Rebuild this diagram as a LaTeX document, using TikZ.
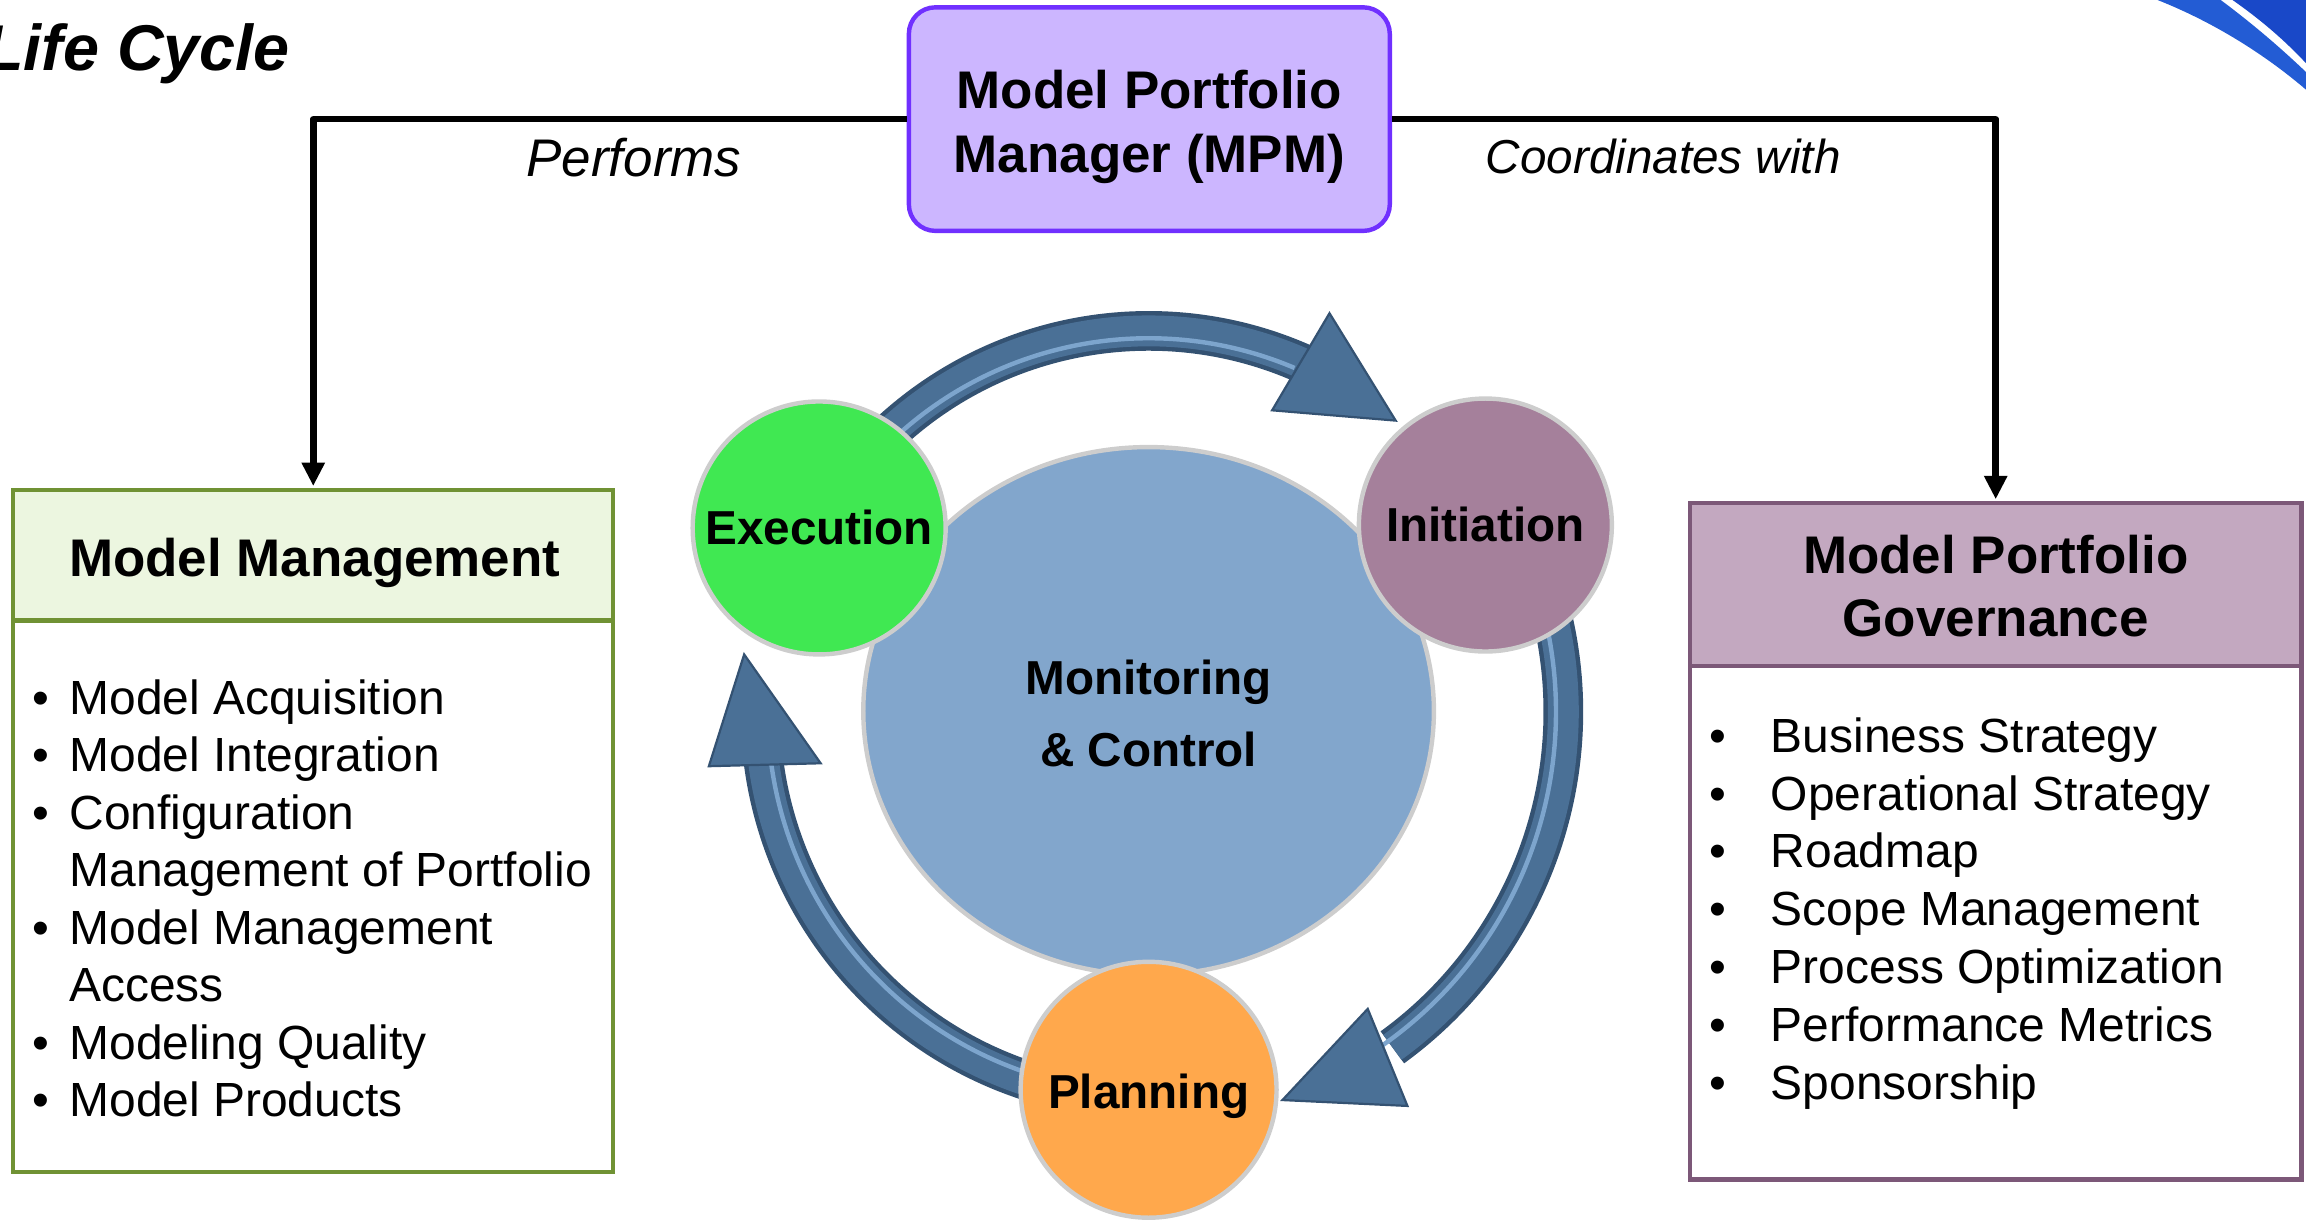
\documentclass[tikz,border=0pt]{standalone}
\usepackage{fontspec}
\setmainfont{Liberation Sans}
\usetikzlibrary{calc,arrows.meta,shapes.geometric}
\definecolor{execgreen}{RGB}{64,232,82}
\definecolor{initmauve}{RGB}{165,128,155}
\definecolor{planorange}{RGB}{255,168,76}
\definecolor{monblue}{RGB}{130,166,204}
\definecolor{arrowblue}{RGB}{74,112,150}
\definecolor{arrowdark}{RGB}{52,82,114}
\definecolor{arrowlight}{RGB}{125,165,205}
\definecolor{mpmfill}{RGB}{204,182,255}
\definecolor{mpmdraw}{RGB}{112,48,255}
\definecolor{mmfill}{RGB}{236,246,224}
\definecolor{mmdraw}{RGB}{112,146,52}
\definecolor{mpgfill}{RGB}{195,168,192}
\definecolor{mpgdraw}{RGB}{124,88,120}
\definecolor{rim}{RGB}{205,205,205}
\definecolor{swooshA}{RGB}{35,92,212}
\definecolor{swooshB}{RGB}{25,72,200}
\begin{document}
\begin{tikzpicture}[x=1pt,y=1pt,
  conn/.style={line width=4.5pt, draw=black, line join=round, -{Triangle[width=15pt,length=16pt]}},
  itemtxt/.style={anchor=base west, inner sep=0pt, font=\fontsize{32.6}{39}\selectfont},
  bul/.style={anchor=base, inner sep=0pt, font=\fontsize{32.6}{39}\selectfont},
  hdr/.style={anchor=base, inner sep=0pt, font=\bfseries\fontsize{36}{43}\selectfont},
  circtxt/.style={anchor=base, inner sep=0pt, font=\bfseries\fontsize{32.4}{38}\selectfont},
  circ/.style={circle, draw=rim, line width=3pt, inner sep=0pt},
  bandout/.style={line width=27pt, draw=arrowdark},
  bandin/.style={line width=21pt, draw=arrowblue},
  bandhi/.style={line width=3pt, draw=arrowlight},
  headst/.style={fill=arrowblue, draw=arrowdark, line width=1.5pt, line join=miter},
  lbl/.style={anchor=base, inner sep=0pt, font=\itshape\fontsize{32.4}{38}\selectfont}
]
\useasboundingbox (0,0) rectangle (1568,830);

% swoosh top right
\fill[swooshA] (1467,830) .. controls (1505,815) and (1540,793) .. (1568,769) -- (1568,781) .. controls (1548,800) and (1530,815) .. (1510,830) -- cycle;
\fill[swooshB] (1518,830) .. controls (1538,816) and (1554,802) .. (1568,787) -- (1568,830) -- cycle;

% title
\node[anchor=base west, inner sep=0pt, font=\bfseries\itshape\fontsize{44}{50}\selectfont] (title) at (-11,782) {Life Cycle};

% MPM box
\node[draw=mpmdraw, fill=mpmfill, rounded corners=18pt, line width=3pt, minimum width=327pt, minimum height=152pt, inner sep=0pt] (mpm) at (781.5,749) {};
\node[hdr] (mpmA) at (781.5,756) {Model Portfolio};
\node[hdr] (mpmB) at (781.5,713) {Manager (MPM)};

% Model Management box
\node[draw=mmdraw, fill=white, line width=3pt, minimum width=408pt, minimum height=375pt, inner sep=0pt] (mmb) at (213,220.5) {};
\node[draw=mmdraw, fill=mmfill, line width=3pt, minimum width=408pt, minimum height=89pt, inner sep=0pt] (mmh) at (213,452.5) {};
\node[hdr] (mmt) at (214,438) {Model Management};

\node[bul] (mmd1) at (28,344.5) {•};
\node[itemtxt] (mmi1) at (47,344.5) {Model Acquisition};
\node[bul] (mmd2) at (28,305.4) {•};
\node[itemtxt] (mmi2) at (47,305.4) {Model Integration};
\node[bul] (mmd3) at (28,266.3) {•};
\node[itemtxt] (mmi3) at (47,266.3) {Configuration};
\node[itemtxt] (mmi3b) at (47,227.2) {Management of Portfolio};
\node[bul] (mmd4) at (28,188.1) {•};
\node[itemtxt] (mmi4) at (47,188.1) {Model Management};
\node[itemtxt] (mmi4b) at (47,149) {Access};
\node[bul] (mmd5) at (28,109.9) {•};
\node[itemtxt] (mmi5) at (47,109.9) {Modeling Quality};
\node[bul] (mmd6) at (28,70.8) {•};
\node[itemtxt] (mmi6) at (47,70.8) {Model Products};

% Model Portfolio Governance box
\node[draw=mpgdraw, fill=white, line width=3pt, minimum width=416pt, minimum height=349pt, inner sep=0pt] (mpgb) at (1357,202.5) {};
\node[draw=mpgdraw, fill=mpgfill, line width=3pt, minimum width=416pt, minimum height=111pt, inner sep=0pt] (mpgh) at (1357,432.5) {};
\node[hdr] (mpgA) at (1357,440) {Model Portfolio};
\node[hdr] (mpgB) at (1357,397) {Governance};

\node[bul] (pgd1) at (1168,318.5) {•};
\node[itemtxt] (pgi1) at (1204,318.5) {Business Strategy};
\node[bul] (pgd2) at (1168,279.2) {•};
\node[itemtxt] (pgi2) at (1204,279.2) {Operational Strategy};
\node[bul] (pgd3) at (1168,239.9) {•};
\node[itemtxt] (pgi3) at (1204,239.9) {Roadmap};
\node[bul] (pgd4) at (1168,200.6) {•};
\node[itemtxt] (pgi4) at (1204,200.6) {Scope Management};
\node[bul] (pgd5) at (1168,161.3) {•};
\node[itemtxt] (pgi5) at (1204,161.3) {Process Optimization};
\node[bul] (pgd6) at (1168,122) {•};
\node[itemtxt] (pgi6) at (1204,122) {Performance Metrics};
\node[bul] (pgd7) at (1168,82.7) {•};
\node[itemtxt] (pgi7) at (1204,82.7) {Sponsorship};

% connectors
\draw[conn, shorten >=1pt] (mpm.west) -| (mmh.north);
\draw[conn, shorten >=1pt] (mpm.east) -| (mpgh.north);
\node[lbl, font=\itshape\fontsize{36}{42}\selectfont] (perf) at (431,710) {Performs};
\node[lbl] (coord) at (1131,712) {Coordinates with};

% central ellipse
\node[ellipse, draw=rim, line width=3pt, inner sep=0pt, fill=monblue, minimum width=388pt, minimum height=359pt] (mon) at (781,346.5) {};
\coordinate (C) at (781,346);

% cycle arrows
\coordinate (tipT) at (949,544);
\coordinate (tipR) at (872,82);
\coordinate (tipL) at (506,385);

\draw[bandout] ($(C)+(135:259pt)$) arc[start angle=135, end angle=66, radius=259pt];
\draw[bandin] ($(C)+(135:259pt)$) arc[start angle=135, end angle=66, radius=259pt];
\draw[bandhi] ($(C)+(135:254pt)$) arc[start angle=135, end angle=67, radius=254pt];
\filldraw[headst] (904,617) -- (tipT) -- (865,551) -- cycle;

\draw[bandout] ($(C)+(15:282pt)$) arc[start angle=15, end angle=-54, radius=282pt];
\draw[bandin] ($(C)+(15:282pt)$) arc[start angle=15, end angle=-54, radius=282pt];
\draw[bandhi] ($(C)+(15:277pt)$) arc[start angle=15, end angle=-55, radius=277pt];
\filldraw[headst] (930,144) -- (tipR) -- (957,78) -- cycle;

\draw[bandout] ($(C)+(255:264pt)$) arc[start angle=255, end angle=187, radius=264pt];
\draw[bandin] ($(C)+(255:264pt)$) arc[start angle=255, end angle=187, radius=264pt];
\draw[bandhi] ($(C)+(255:259pt)$) arc[start angle=255, end angle=188, radius=259pt];
\filldraw[headst] (482,309) -- (tipL) -- (558,311) -- cycle;

% phase circles
\node[circ, fill=execgreen, minimum size=172pt] (exec) at (557,471) {};
\node[circ, fill=initmauve, minimum size=172pt] (init) at (1010,473) {};
\node[circ, fill=planorange, minimum size=174pt] (plan) at (781,89) {};

\node[circtxt] (exect) at (557,459.5) {Execution};
\node[circtxt] (initt) at (1010,461.5) {Initiation};
\node[circtxt] (plant) at (781,76.5) {Planning};
\node[circtxt] (monA) at (781,357.5) {Monitoring};
\node[circtxt] (monB) at (781,308.5) {\& Control};
\end{tikzpicture}
\end{document}
